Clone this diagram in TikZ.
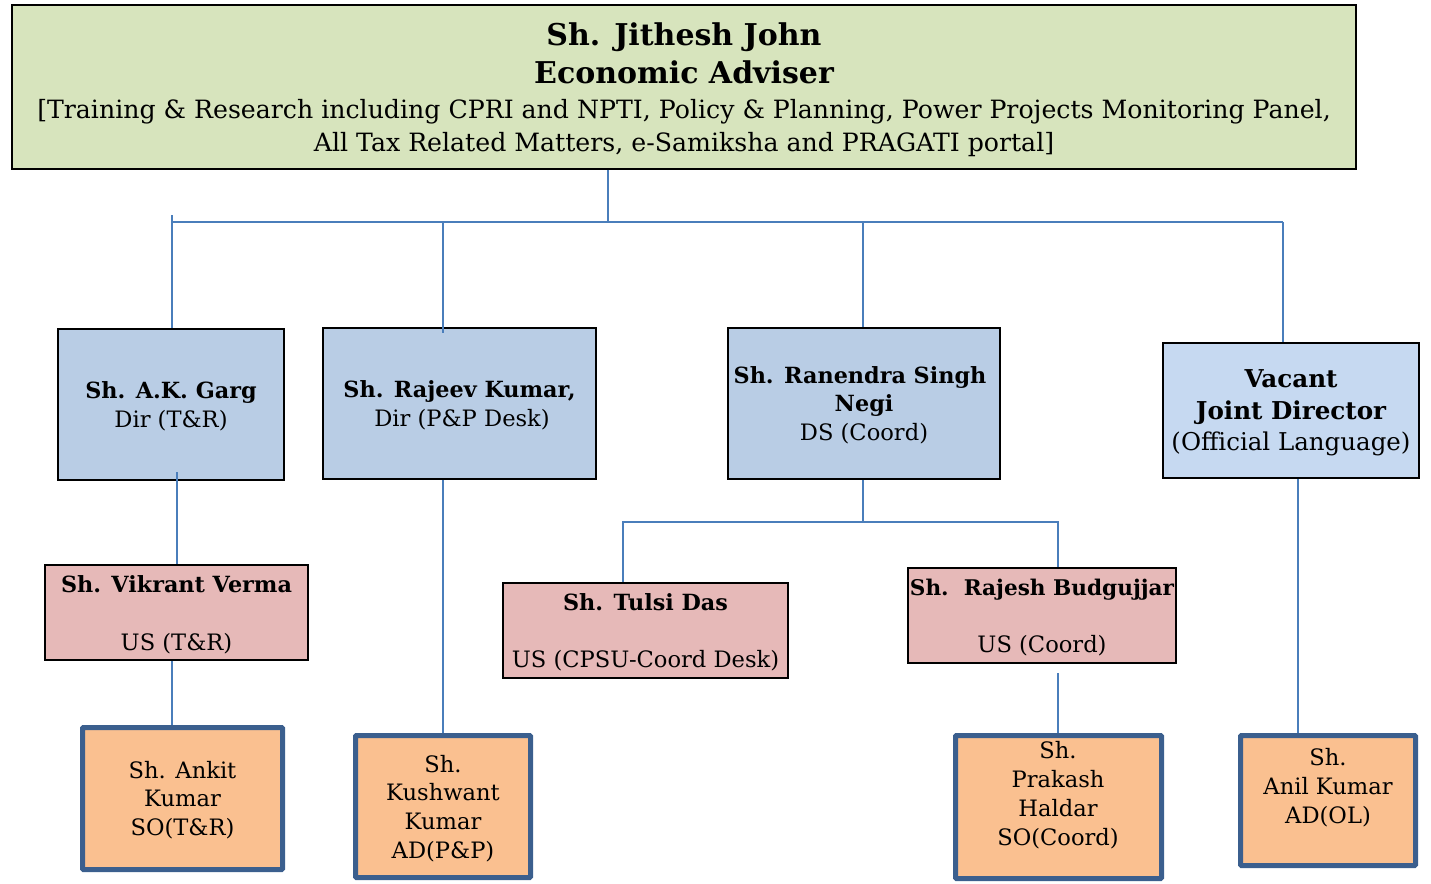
\documentclass[tikz,border=0pt]{standalone}
\usepackage{fontspec}
\setmainfont{DejaVu Serif}
\definecolor{topgreen}{HTML}{D7E4BD}
\definecolor{dirblue}{HTML}{B9CDE5}
\definecolor{vacblue}{HTML}{C6D9F1}
\definecolor{uspink}{HTML}{E6B9B8}
\definecolor{soorange}{HTML}{FAC090}
\definecolor{soedge}{HTML}{3B5F8E}
\definecolor{connblue}{HTML}{4A7EBB}
\tikzset{
  box/.style={draw=black, line width=1.6pt, rectangle, inner sep=0pt},
  topbox/.style={box, fill=topgreen},
  dirbox/.style={box, fill=dirblue},
  vacbox/.style={box, fill=vacblue},
  usbox/.style={box, fill=uspink},
  sobox/.style={draw=soedge, line width=5pt, rectangle, rounded corners=1pt, fill=soorange, inner sep=0pt},
  conn/.style={draw=connblue, line width=1.5pt},
  txt/.style={inner sep=0pt, anchor=mid, yshift=-5pt},
  tt/.style={txt, yshift=-3pt, font=\fontsize{30}{36}\selectfont\bfseries},
  tb/.style={txt, yshift=-1pt, font=\fontsize{25.2}{30}\selectfont},
  lb/.style={txt, font=\fontsize{22.3}{27}\selectfont\bfseries},
  lr/.style={txt, font=\fontsize{22.6}{27}\selectfont},
  vb/.style={txt, font=\fontsize{24.6}{30}\selectfont\bfseries},
  vr/.style={txt, font=\fontsize{24.5}{30}\selectfont},
}
\begin{document}
\begin{tikzpicture}[x=1pt,y=-1pt]
\useasboundingbox (0,0) rectangle (1431,883);
% boxes
\node[topbox, minimum width=1344pt, minimum height=164pt] (top) at (684,87) {};
\node[dirbox, minimum width=226pt, minimum height=151pt] (garg) at (171,404.5) {};
\node[dirbox, minimum width=273pt, minimum height=151pt] (rajeev) at (459.5,403.5) {};
\node[dirbox, minimum width=272pt, minimum height=151pt] (negi) at (864,403.5) {};
\node[vacbox, minimum width=256pt, minimum height=135pt] (vacant) at (1291,410.5) {};
\node[usbox, minimum width=263pt, minimum height=95pt] (vikrant) at (176.5,612.5) {};
\node[usbox, minimum width=285pt, minimum height=95pt] (tulsi) at (645.5,630.5) {};
\node[usbox, minimum width=268pt, minimum height=95pt] (rajesh) at (1042,615.5) {};
\node[sobox, minimum width=200pt, minimum height=142pt] (ankit) at (182.5,798.5) {};
\node[sobox, minimum width=175pt, minimum height=142pt] (kush) at (443,806.5) {};
\node[sobox, minimum width=206pt, minimum height=143pt] (prakash) at (1058.5,807) {};
\node[sobox, minimum width=175pt, minimum height=130pt] (anil) at (1328,800.5) {};
% texts
\node[tt] (top1) at (684,35) {Sh. Jithesh John};
\node[tt] (top2) at (684,73) {Economic Adviser};
\node[tb] (top3) at (684,110) {[Training \& Research including CPRI and NPTI, Policy \& Planning, Power Projects Monitoring Panel,};
\node[tb] (top4) at (684,143) {All Tax Related Matters, e-Samiksha and PRAGATI portal]};
\node[lb] (garg1) at (171,391) {Sh. A.K. Garg};
\node[lr] (garg2) at (171,420) {Dir (T\&R)};
\node[lb] (rajeev1) at (459.5,390) {Sh. Rajeev Kumar,};
\node[lr] (rajeev2) at (462,419) {Dir (P\&P Desk)};
\node[lb] (negi1) at (860,376) {Sh. Ranendra Singh};
\node[lb] (negi2) at (864,404) {Negi};
\node[lr] (negi3) at (864,433) {DS (Coord)};
\node[vb] (vac1) at (1291,380) {Vacant};
\node[vb] (vac2) at (1291,412) {Joint Director};
\node[vr] (vac3) at (1291,443) {(Official Language)};
\node[lb] (vik1) at (176.5,585) {Sh. Vikrant Verma};
\node[lr] (vik2) at (176.5,643) {US (T\&R)};
\node[lb] (tul1) at (645.5,603) {Sh. Tulsi Das};
\node[lr] (tul2) at (645.5,660) {US (CPSU-Coord Desk)};
\node[lb, font=\fontsize{21.6}{26}\selectfont\bfseries] (raj1) at (1042,588) {Sh.\ \ Rajesh Budgujjar};
\node[lr] (raj2) at (1042,645) {US (Coord)};
\node[lr] (ank1) at (182.5,771) {Sh. Ankit};
\node[lr] (ank2) at (182.5,799) {Kumar};
\node[lr] (ank3) at (182.5,828) {SO(T\&R)};
\node[lr] (kus1) at (443,765) {Sh.};
\node[lr] (kus2) at (443,793) {Kushwant};
\node[lr] (kus3) at (443,822) {Kumar};
\node[lr] (kus4) at (443,851) {AD(P\&P)};
\node[lr] (pra1) at (1058,751) {Sh.};
\node[lr] (pra2) at (1058,780) {Prakash};
\node[lr] (pra3) at (1058,809) {Haldar};
\node[lr] (pra4) at (1058,838) {SO(Coord)};
\node[lr] (ani1) at (1328,758) {Sh.};
\node[lr] (ani2) at (1328,787) {Anil Kumar};
\node[lr] (ani3) at (1328,816) {AD(OL)};
% connectors
\coordinate (trunk) at (608,222);
\coordinate (b1top) at (172,215);
\coordinate (b1) at (172,222);
\coordinate (b2) at (443,222);
\coordinate (b3) at (863,222);
\coordinate (b4) at (1283,222);
\coordinate (gv) at (177,472);
\coordinate (va) at (172,660);
\coordinate (nb) at (863,522);
\coordinate (t1) at (623,522);
\coordinate (t2) at (1058,522);
\coordinate (rp) at (1058,673);
\coordinate (vl) at (1298,478);
\draw[conn] (top.south -| trunk) -- (trunk);
\draw[conn] (b1) -- (b4);
\draw[conn] (b1top) -- (garg.north -| b1top);
\draw[conn] (b2) -- ([yshift=-6pt]rajeev.north -| b2);
\draw[conn] (b3) -- (negi.north -| b3);
\draw[conn] (b4) -- (vacant.north -| b4);
\draw[conn] (gv) -- (vikrant.north -| gv);
\draw[conn] (vikrant.south -| va) -- (ankit.north -| va);
\draw[conn] (rajeev.south -| kush.north) -- (kush.north);
\draw[conn] (negi.south -| nb) -- (nb);
\draw[conn] (tulsi.north -| t1) -- (t1) -- (t2) -- (rajesh.north -| t2);
\draw[conn] (rp) -- (prakash.north -| rp);
\draw[conn] (vacant.south -| vl) -- (anil.north -| vl);
\end{tikzpicture}
\end{document}
